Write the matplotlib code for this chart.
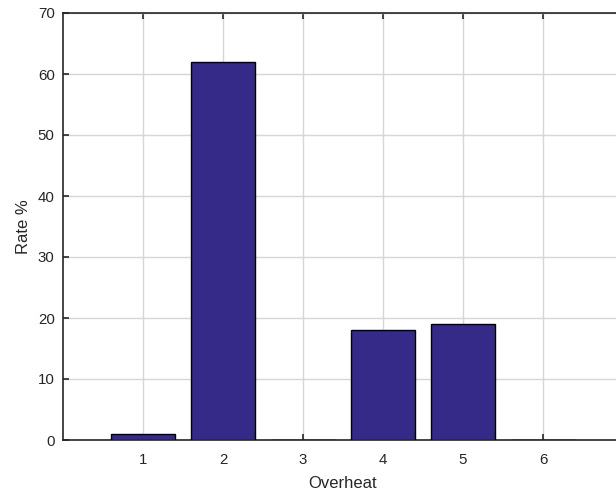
import matplotlib
matplotlib.use("Agg")
import matplotlib.pyplot as plt

categories = [1, 2, 3, 4, 5, 6]
rates = [1, 62, 0, 18, 19, 0]
yticks = [0, 10, 20, 30, 40, 50, 60, 70]

plt.rcParams['font.family'] = ['Liberation Sans', 'DejaVu Sans']

fig = plt.figure(figsize=(6.16, 4.99), dpi=100)
ax = fig.add_axes([63/616, 59/499, 560/616, 427/499])

ax.bar(categories, rates, width=0.8, color='#352A87', edgecolor='black', linewidth=1, zorder=3)

ax.set_xlim(0, 7)
ax.set_ylim(0, 70)
ax.set_xticks(categories)
ax.set_yticks(yticks)
ax.grid(True, color='#D6D6D6', linewidth=1, zorder=0)
ax.set_axisbelow(True)

ax.tick_params(direction='in', top=True, right=True, length=4, width=1.2,
               labelsize=10.8, colors='#262626')
ax.tick_params(axis='x', pad=9)
ax.tick_params(axis='y', pad=6)
for s in ax.spines.values():
    s.set_color('#262626')
    s.set_linewidth(1.2)

ax.set_xlabel('Overheat', fontsize=12, color='#262626', labelpad=7)
ax.set_ylabel('Rate %', fontsize=12, color='#262626', labelpad=5)

fig.savefig('out.png', dpi=100)
